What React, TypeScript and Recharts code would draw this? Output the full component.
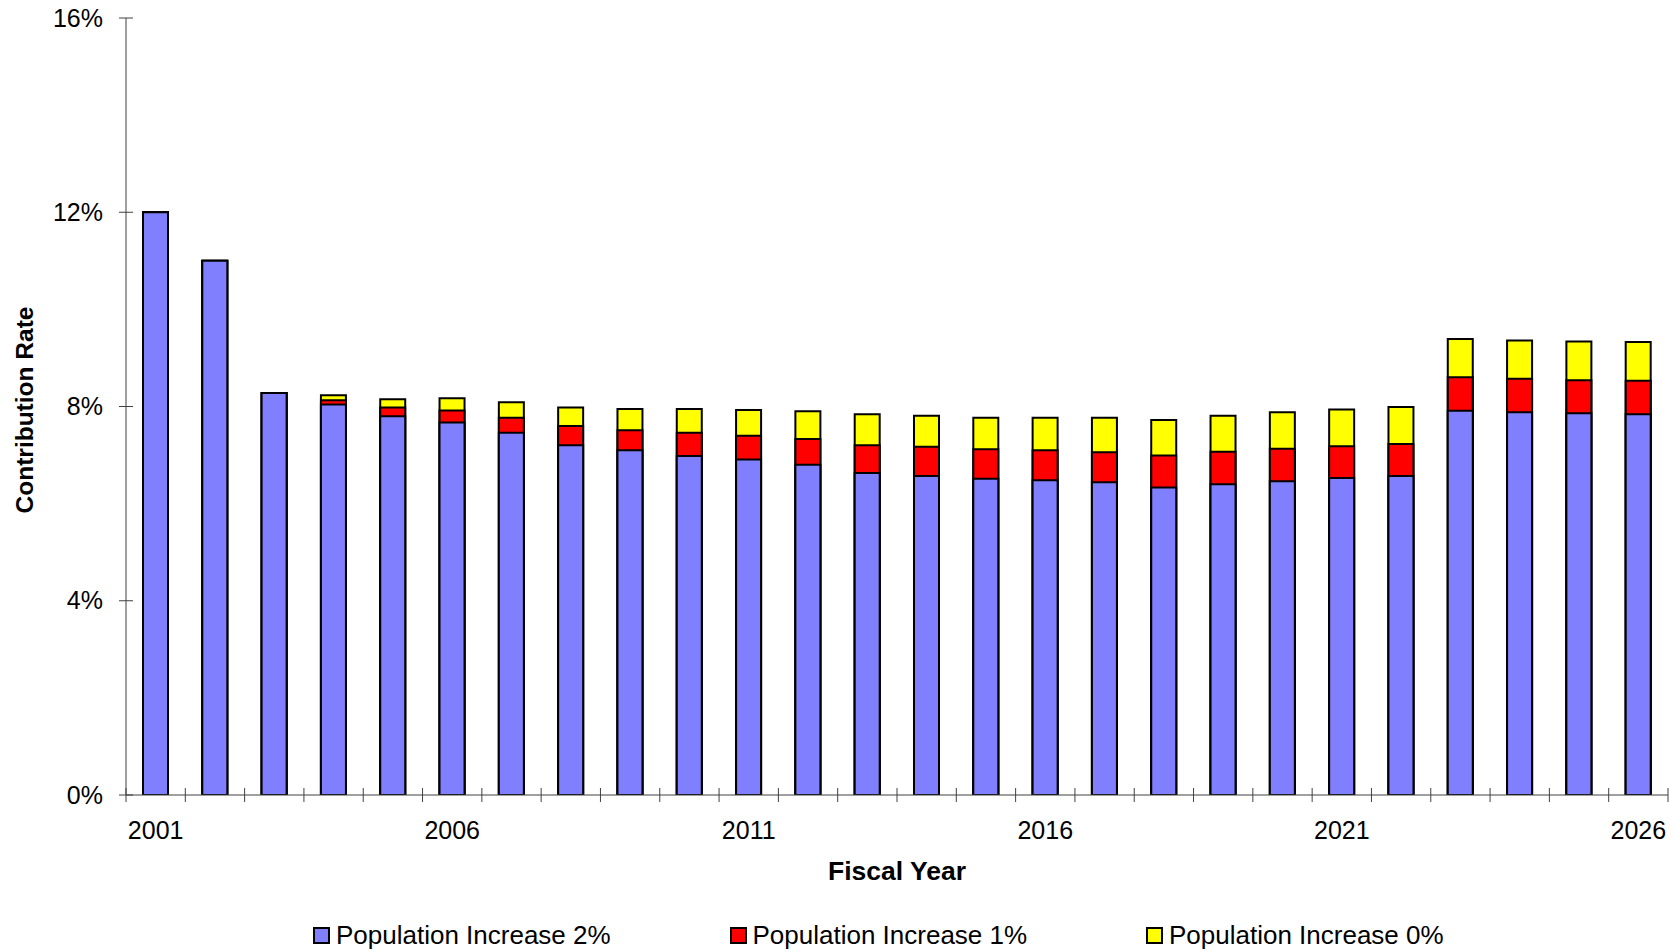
import React from 'react';
import { BarChart, Bar, XAxis, YAxis, Legend } from 'recharts';

// Fiscal years on the category axis
const years = [
  2001, 2002, 2003, 2004, 2005, 2006, 2007, 2008, 2009, 2010, 2011, 2012, 2013,
  2014, 2015, 2016, 2017, 2018, 2019, 2020, 2021, 2022, 2023, 2024, 2025, 2026,
];

// Contribution rate (%) under a 2% population increase
const rate2 = [
  12.0, 11.0, 8.28, 8.04, 7.8, 7.67, 7.46, 7.2, 7.1, 6.98, 6.91, 6.8, 6.63,
  6.57, 6.51, 6.48, 6.44, 6.33, 6.4, 6.46, 6.53, 6.57, 7.91, 7.88, 7.86, 7.84,
];

// Contribution rate (%) under a 1% population increase
const rate1 = [
  12.0, 11.0, 8.28, 8.13, 7.98, 7.92, 7.77, 7.6, 7.51, 7.46, 7.4, 7.33, 7.2,
  7.17, 7.12, 7.1, 7.06, 6.99, 7.07, 7.13, 7.18, 7.23, 8.6, 8.57, 8.54, 8.53,
];

// Contribution rate (%) under a 0% population increase
const rate0 = [
  12.0, 11.0, 8.28, 8.23, 8.15, 8.17, 8.09, 7.98, 7.95, 7.95, 7.93, 7.9, 7.84,
  7.81, 7.77, 7.77, 7.77, 7.72, 7.81, 7.88, 7.94, 7.99, 9.39, 9.36, 9.34, 9.33,
];

const yTicks = [0, 4, 8, 12, 16];

const seriesNames = [
  'Population Increase 2%',
  'Population Increase 1%',
  'Population Increase 0%',
];
const seriesColors = ['#8080FF', '#FF0000', '#FFFF00'];

const rows = years.map((y, i) => ({
  year: String(y),
  rate2: rate2[i],
  rate1: rate1[i],
  rate0: rate0[i],
}));

const FONT = '"Liberation Sans", Arial, Helvetica, sans-serif';
const AXIS = '#404040';
const BAR_SIZE = 25;

// Category ticks: cross marks on band boundaries, a label every fifth year
const XTick = (props: any) => {
  const { x, y, payload, index, visibleTicksCount } = props;
  const half = payload && typeof payload.offset === 'number' ? payload.offset : 0;
  return (
    <g>
      <line x1={x - half} x2={x - half} y1={y - 7} y2={y + 7} stroke={AXIS} strokeWidth={1} />
      {index === visibleTicksCount - 1 && (
        <line x1={x + half} x2={x + half} y1={y - 7} y2={y + 7} stroke={AXIS} strokeWidth={1} />
      )}
      {index % 5 === 0 && (
        <text x={x} y={y + 43.5} textAnchor="middle" fontFamily={FONT} fontSize={25} fill="#000">
          {payload.value}
        </text>
      )}
    </g>
  );
};

// Value ticks: cross marks with percent labels
const YTick = (props: any) => {
  const { x, y, payload } = props;
  return (
    <g>
      <line x1={x - 7} x2={x + 7} y1={y} y2={y} stroke={AXIS} strokeWidth={1} />
      <text x={x - 23} y={y + 8.5} textAnchor="end" fontFamily={FONT} fontSize={25} fill="#000">
        {`${payload.value}%`}
      </text>
    </g>
  );
};

const YTitle = (props: any) => {
  const vb = props.viewBox || { x: 0, y: 0, width: 0, height: 0 };
  const cx = vb.x + 24;
  const cy = vb.y + vb.height / 2 + 3.5;
  return (
    <text
      x={cx}
      y={cy}
      transform={`rotate(-90 ${cx} ${cy})`}
      textAnchor="middle"
      dominantBaseline="central"
      fontFamily={FONT}
      fontSize={24.5}
      fontWeight="bold"
      fill="#000"
    >
      Contribution Rate
    </text>
  );
};

const XTitle = (props: any) => {
  const vb = props.viewBox || { x: 0, y: 0, width: 0, height: 0 };
  return (
    <text
      x={vb.x + vb.width / 2}
      y={vb.y + 84.5}
      textAnchor="middle"
      fontFamily={FONT}
      fontSize={26.5}
      fontWeight="bold"
      fill="#000"
    >
      Fiscal Year
    </text>
  );
};

const LegendBox = () => (
  <div style={{ position: 'relative', width: 1676, height: 34, fontFamily: FONT, fontSize: 26 }}>
    {seriesNames.map((name, i) => (
      <div
        key={name}
        style={{
          position: 'absolute',
          left: 313 + i * 416.5,
          top: 0,
          height: 34,
          display: 'flex',
          alignItems: 'center',
          whiteSpace: 'nowrap',
          color: '#000',
        }}
      >
        <span
          style={{
            display: 'inline-block',
            width: 17,
            height: 17,
            boxSizing: 'border-box',
            border: '2px solid #000',
            background: seriesColors[i],
            marginRight: 6,
          }}
        />
        <span>{name}</span>
      </div>
    ))}
  </div>
);

export default function App() {
  return (
    <div style={{ position: 'absolute', left: 0, top: 0, width: 1676, height: 952, background: '#fff' }}>
      <BarChart
        width={1676}
        height={952}
        data={rows}
        margin={{ top: 18, right: 8, left: 0, bottom: 0 }}
        barSize={BAR_SIZE}
        barGap={-BAR_SIZE}
      >
        <XAxis
          dataKey="year"
          height={123}
          interval={0}
          tickLine={false}
          tickSize={0}
          tickMargin={0}
          axisLine={{ stroke: AXIS, strokeWidth: 1 }}
          tick={<XTick />}
          label={<XTitle />}
        />
        <YAxis
          width={126}
          domain={[0, 16]}
          ticks={yTicks}
          interval={0}
          allowDataOverflow
          tickLine={false}
          tickSize={0}
          tickMargin={0}
          axisLine={{ stroke: AXIS, strokeWidth: 1 }}
          tick={<YTick />}
          label={<YTitle />}
        />
        <Legend verticalAlign="bottom" height={34} wrapperStyle={{ left: 0 }} content={<LegendBox />} />
        {/* tallest scenario first so the lower scenarios overlay it */}
        <Bar dataKey="rate0" name={seriesNames[2]} fill={seriesColors[2]} stroke="#000" strokeWidth={2} isAnimationActive={false} />
        <Bar dataKey="rate1" name={seriesNames[1]} fill={seriesColors[1]} stroke="#000" strokeWidth={2} isAnimationActive={false} />
        <Bar dataKey="rate2" name={seriesNames[0]} fill={seriesColors[0]} stroke="#000" strokeWidth={2} isAnimationActive={false} />
      </BarChart>
    </div>
  );
}
